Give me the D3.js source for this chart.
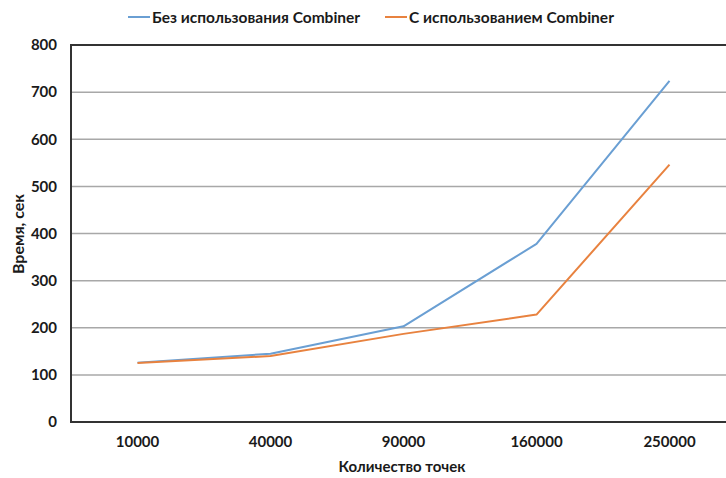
<!DOCTYPE html>
<html>
<head>
<meta charset="utf-8">
<script src="https://cdn.jsdelivr.net/npm/d3@7"></script>
<style>
  html, body { margin: 0; padding: 0; background: #fff; }
  svg { display: block; }
  text { font-family: Lato, "Open Sans", sans-serif; fill: #1a1a1a; }
</style>
</head>
<body>
<svg id="chart" width="726" height="478"></svg>
<script>
// Number of points processed and elapsed time (seconds)
const categories = ["10000", "40000", "90000", "160000", "250000"];
const withoutCombiner = [126, 145, 203, 378, 724];
const withCombiner = [125, 140, 187, 228, 546];
const yTicks = [0, 100, 200, 300, 400, 500, 600, 700, 800];
const seriesNames = ["Без использования Combiner", "С использованием Combiner"];
const seriesColors = ["#6a9fd3", "#e8823f"];

const svg = d3.select("#chart");
const margin = { left: 71, top: 45, bottom: 422 };
const plotRight = 71 + 5 * 133;

const x = d3.scaleBand().domain(categories).range([margin.left, plotRight]);
const y = d3.scaleLinear().domain([0, 800]).range([margin.bottom, margin.top]);

// Horizontal gridlines
svg.append("g")
  .selectAll("line")
  .data(yTicks.filter(d => d > 0 && d < 800))
  .join("line")
  .attr("x1", margin.left).attr("x2", plotRight)
  .attr("y1", d => y(d)).attr("y2", d => y(d))
  .attr("stroke", "#a8a8a8").attr("stroke-width", 1.5);

// Plot area frame
svg.append("rect")
  .attr("x", margin.left).attr("y", margin.top)
  .attr("width", plotRight - margin.left).attr("height", margin.bottom - margin.top)
  .attr("fill", "none").attr("stroke", "#333").attr("stroke-width", 2);

// Y axis labels
const yAxis = d3.axisLeft(y).tickValues(yTicks).tickSize(0).tickPadding(14);
const gy = svg.append("g").attr("transform", `translate(${margin.left},0)`).call(yAxis);
gy.select(".domain").remove();
gy.selectAll("text").attr("font-size", 15).attr("font-weight", "bold")
  .attr("font-family", "Lato, sans-serif").attr("fill", "#1a1a1a");

// X axis labels
const xAxis = d3.axisBottom(x).tickSize(0).tickPadding(14);
const gx = svg.append("g").attr("transform", `translate(0,${margin.bottom})`).call(xAxis);
gx.select(".domain").remove();
gx.selectAll("text").attr("font-size", 15).attr("font-weight", "bold")
  .attr("font-family", "Lato, sans-serif").attr("fill", "#1a1a1a");

// Series lines
const line = d3.line()
  .x((d, i) => x(categories[i]) + x.bandwidth() / 2)
  .y(d => y(d));

[withoutCombiner, withCombiner].forEach((vals, k) => {
  svg.append("path")
    .datum(vals)
    .attr("d", line)
    .attr("fill", "none")
    .attr("stroke", seriesColors[k])
    .attr("stroke-width", 2)
    .attr("stroke-linejoin", "round");
});

// Axis titles
svg.append("text")
  .attr("x", 402).attr("y", 472)
  .attr("text-anchor", "middle")
  .attr("font-size", 15).attr("font-weight", "bold")
  .text("Количество точек");

svg.append("text")
  .attr("transform", "translate(24,234) rotate(-90)")
  .attr("text-anchor", "middle")
  .attr("font-size", 16).attr("font-weight", "bold")
  .text("Время, сек");

// Legend
const legendX = [128, 385];
seriesNames.forEach((name, k) => {
  const g = svg.append("g").attr("transform", `translate(${legendX[k]},17)`);
  g.append("line").attr("x1", 0).attr("x2", 22).attr("y1", 0).attr("y2", 0)
    .attr("stroke", seriesColors[k]).attr("stroke-width", 2);
  g.append("text").attr("x", 24).attr("y", 5.5)
    .attr("font-size", 15.5).attr("font-weight", "bold")
    .text(name);
});
</script>
</body>
</html>
